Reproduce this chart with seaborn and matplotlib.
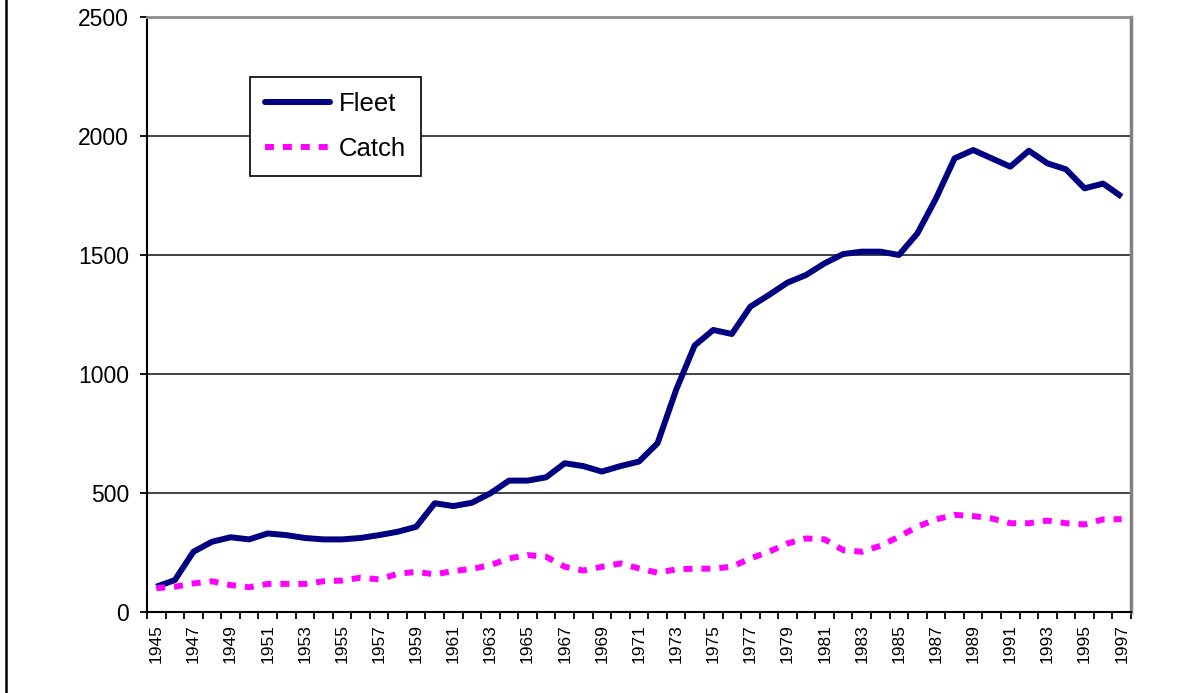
import seaborn as sns
import matplotlib.pyplot as plt
import pandas as pd
from matplotlib.lines import Line2D
from matplotlib.ticker import MultipleLocator, FixedLocator

# Datos
years = list(range(1945, 1998))
fleet = [106, 134, 253, 295, 314, 305, 330, 323, 311, 305, 305, 311, 323, 337, 358,
         457, 445, 459, 499, 552, 552,
         566, 625, 613, 590, 613, 632, 709, 933, 1120, 1185, 1168, 1283, 1332, 1384,
         1416, 1465, 1504, 1514, 1514,
         1500, 1591, 1738, 1906, 1941, 1906, 1871, 1938, 1885, 1860, 1780, 1800, 1745]
catch = [100, 106, 120, 129, 113, 104, 118, 118, 118, 129, 132, 144, 137, 160, 169,
         158, 172, 181, 197, 225, 239,
         232, 190, 174, 190, 204, 183, 165, 179, 182, 182, 190, 225, 253, 288,
         309, 305, 260, 253, 278,
         316, 359, 389, 408, 403, 393, 373, 373, 384, 373, 368, 389, 390]

df = pd.DataFrame({'year': years * 2,
                   'value': fleet + catch,
                   'series': ['Fleet'] * len(years) + ['Catch'] * len(years)})

sns.set_theme(style='white')
plt.rcParams['font.family'] = ['Liberation Sans', 'DejaVu Sans']
plt.rcParams['text.color'] = 'black'
plt.rcParams['xtick.color'] = 'black'
plt.rcParams['ytick.color'] = 'black'

fig = plt.figure(figsize=(11.92, 6.93), dpi=100)
ax = fig.add_axes([0.1233, 0.1169, 0.8255, 0.8586])

colors = {'Fleet': '#000080', 'Catch': '#FF00FF'}
sns.lineplot(data=df, x='year', y='value', hue='series', style='series',
             palette=colors, dashes={'Fleet': '', 'Catch': (1.5, 1.5)},
             linewidth=4.3, ax=ax, legend=False)
for line in ax.lines:
    line.set_solid_joinstyle('round')
    line.set_solid_capstyle('butt')
    line.set_dash_capstyle('butt')

# Ejes
ax.set_xlim(1944.5, 1997.5)
ax.set_ylim(0, 2500)
ax.yaxis.set_major_locator(MultipleLocator(500))
ax.set_xticks(years[::2])
ax.set_xticklabels([str(y) for y in years[::2]], rotation=90, fontsize=12.5)
ax.xaxis.set_minor_locator(FixedLocator([y - 0.5 for y in years] + [1997.5]))
ax.tick_params(axis='x', which='major', length=0, pad=9)
ax.tick_params(axis='x', which='minor', bottom=True, length=5, width=1.3, color='black')
ax.tick_params(axis='y', left=True, length=5, width=1.3, color='black', labelsize=16.5, pad=8)
ax.set_xlabel('')
ax.set_ylabel('')

ax.grid(True, axis='y', color='#333333', linewidth=1.3)
ax.grid(False, axis='x')
ax.set_axisbelow(True)

ax.spines['left'].set_color('black')
ax.spines['left'].set_linewidth(1.5)
ax.spines['bottom'].set_color('black')
ax.spines['bottom'].set_linewidth(1.5)
ax.spines['top'].set_color('#8c8c8c')
ax.spines['top'].set_linewidth(2)
ax.spines['right'].set_color('#808080')
ax.spines['right'].set_linewidth(2.5)

# Leyenda
handles = [Line2D([], [], color=colors['Fleet'], linewidth=4.3),
           Line2D([], [], color=colors['Catch'], linewidth=4.3, linestyle=(0, (1.5, 1.5)))]
leg = ax.legend(handles, ['Fleet', 'Catch'], loc='upper left',
                bbox_to_anchor=(0.1047, 0.899), borderaxespad=0, fontsize=18.5,
                frameon=True, fancybox=False, edgecolor='black', framealpha=1,
                handlelength=2.5, handletextpad=0.35, labelspacing=0.8,
                borderpad=0.6)
leg.get_frame().set_linewidth(1.2)
for t in leg.get_texts():
    t.set_color('black')

# Borde izquierdo de la figura
fig.add_artist(Line2D([0.005, 0.005], [0, 1], color='black', linewidth=1.8,
                      transform=fig.transFigure))

fig.savefig('out.png', dpi=100)
